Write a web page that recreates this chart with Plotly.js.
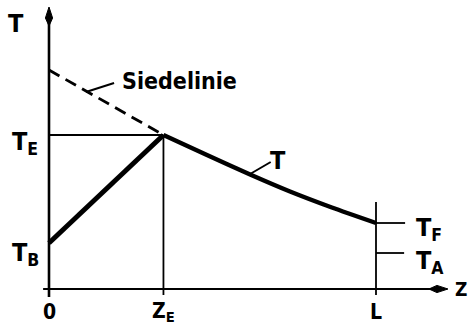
<!DOCTYPE html>
<html>
<head>
<meta charset="utf-8">
<script src="https://cdn.plot.ly/plotly-3.0.1.min.js"></script>
<style>
  html, body { margin: 0; padding: 0; background: #fff; }
  #chart { width: 471px; height: 326px; }
</style>
</head>
<body>
<div id="chart"></div>
<script>
// Positions along the tube (z) and temperature levels, arbitrary units
const zTicks = [0, 3.5, 10];
const zTickText = ['0', 'Z<sub>E</sub>', 'L'];
const zE = 3.5;
const zL = 10;
const tempLevels = [4.6, 15.4, 6.6, 3.6];           // T_B, T_E, T_F, T_A
const tempLabels = ['T<sub>B</sub>', 'T<sub>E</sub>', 'T<sub>F</sub>', 'T<sub>A</sub>'];
const [tB, tE, tF, tA] = tempLevels;

// Heating section: inlet temperature up to the boiling line at z_E
const heatZ = [0, 3.5];
const heatT = [4.6, 15.4];
// Temperature decay after z_E
const coolZ = [3.5, 4.83, 6.15, 7.37, 8.65, 10];
const coolT = [15.4, 13.4, 11.45, 9.75, 8.15, 6.6];
// Boiling line (Siedelinie) up to z_E
const boilZ = [0, 3.5];
const boilT = [21.9, 15.4];

// Axis extents (data units)
const zMin = -0.18, zMax = 12.2;
const tMin = -0.8, tMax = 28.2;
const pxPerZ = 32.7, pxPerT = 10;

const black = '#000';
const FONT = 'DejaVu Sans Condensed, sans-serif';

function line(x, y, width, dash, shape) {
  return { x, y, type: 'scatter', mode: 'lines', hoverinfo: 'skip',
           line: { color: black, width, dash: dash || 'solid', shape: shape || 'linear', smoothing: 0.7 } };
}
// slim filled arrowhead pointing along +x or +y, sized in pixels
function arrowHead(x0, y0, dir) {
  const len = 19, half = 3.6, back = 11;
  let xs, ys;
  if (dir === 'x') {
    xs = [x0, x0 - back / pxPerZ, x0 - len / pxPerZ, x0 - back / pxPerZ, x0];
    ys = [y0, y0 + half / pxPerT, y0, y0 - half / pxPerT, y0];
  } else {
    xs = [x0, x0 + half / pxPerZ, x0, x0 - half / pxPerZ, x0];
    ys = [y0, y0 - back / pxPerT, y0 - len / pxPerT, y0 - back / pxPerT, y0];
  }
  return { x: xs, y: ys, type: 'scatter', mode: 'lines', fill: 'toself',
           fillcolor: black, line: { color: black, width: 1 }, hoverinfo: 'skip' };
}

const traces = [
  // axes
  line([zMin, zMax - 0.3], [0, 0], 2.2),
  line([0, 0], [tMin, tMax - 0.5], 2.6),
  arrowHead(zMax, 0, 'x'),
  arrowHead(0, tMax, 'y'),
  // guide lines
  line([0, zE], [tE, tE], 1.8),
  line([zE, zE], [tMin + 0.2, tE], 1.8),
  line([zL, zL], [tMin + 0.2, 8.7], 1.8),
  line([zL, zL + 0.89], [tF, tF], 1.8),
  line([zL, zL + 0.86], [tA, tA], 1.8),
  // leader lines
  line([1.13, 1.99], [19.7, 20.6], 2),
  line([6.15, 6.78], [11.5, 12.7], 2),
  // curves
  line(boilZ, boilT, 2.8, '12px,7px'),
  line(heatZ, heatT, 5),
  line(coolZ, coolT, 4.4, 'solid', 'spline')
];

const ann = [];
function label(text, x, y, size, xanchor, yanchor) {
  ann.push({ text, x, y, xref: 'x', yref: 'y', showarrow: false,
             xanchor: xanchor || 'center', yanchor: yanchor || 'middle',
             font: { family: FONT, size, color: black, weight: 'bold' } });
}
// tick labels along z
zTicks.forEach((z, i) => label(zTickText[i], z, -2.3, 21, 'center', 'middle'));
// temperature labels on the left and right
label(tempLabels[1], -1.2, tE - 0.8, 25, 'left', 'middle');
label(tempLabels[0], -1.2, tB - 1.1, 25, 'left', 'middle');
label(tempLabels[2], 11.15, tF - 0.6, 25, 'left', 'middle');
label(tempLabels[3], 11.15, tA - 0.9, 25, 'left', 'middle');
label('T', -1.0, 26.6, 25, 'center', 'middle');
label('Z', 12.6, 0, 19, 'center', 'middle');
label('T', 7.0, 12.9, 25, 'center', 'middle');
label('Siedelinie', 2.17, 20.8, 23, 'left', 'middle');

const layout = {
  width: 471, height: 326,
  margin: { l: 0, r: 0, t: 0, b: 0 },
  paper_bgcolor: '#fff', plot_bgcolor: '#fff',
  showlegend: false,
  xaxis: { range: [-49 / pxPerZ, 422 / pxPerZ], visible: false, fixedrange: true },
  yaxis: { range: [-37 / pxPerT, 289 / pxPerT], visible: false, fixedrange: true },
  annotations: ann
};

Plotly.newPlot('chart', traces, layout, { staticPlot: true, displayModeBar: false });
</script>
</body>
</html>
